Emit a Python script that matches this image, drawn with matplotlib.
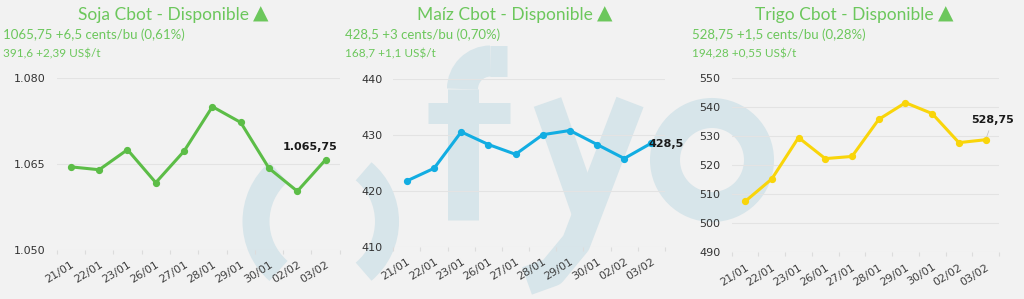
import matplotlib
matplotlib.use("Agg")
import matplotlib.pyplot as plt
from matplotlib.patches import Arc, Circle

# Datos (cierres Cbot, cents/bu)
fechas = ['21/01', '22/01', '23/01', '26/01', '27/01', '28/01', '29/01', '30/01', '02/02', '03/02']
soja = [1064.5, 1064.0, 1067.5, 1061.75, 1067.25, 1075.0, 1072.25, 1064.25, 1060.25, 1065.75]
maiz = [421.75, 424.0, 430.5, 428.25, 426.5, 430.0, 430.75, 428.25, 425.75, 428.5]
trigo = [507.5, 515.25, 529.5, 522.25, 523.0, 535.75, 541.5, 537.75, 527.75, 528.75]

titulos = ['Soja Cbot - Disponible', 'Maíz Cbot - Disponible', 'Trigo Cbot - Disponible']
linea1 = ['1065,75 +6,5 cents/bu (0,61%)', '428,5 +3 cents/bu (0,70%)', '528,75 +1,5 cents/bu (0,28%)']
linea2 = ['391,6 +2,39 US$/t', '168,7 +1,1 US$/t', '194,28 +0,55 US$/t']

soja_ticks = [1050, 1065, 1080]
maiz_ticks = [410, 420, 430, 440]
trigo_ticks = [490, 500, 510, 520, 530, 540, 550]

W, H = 1024, 299
FONDO = '#F2F2F2'
VERDE_TXT = '#6CC75C'
MARCA = '#D7E5EA'


def fmt_es(v, dec=2):
    s = f"{v:,.{dec}f}"
    if dec:
        s = s.rstrip('0').rstrip('.')
    return s.replace(',', 'X').replace('.', ',').replace('X', '.')


def px(x0, y0, x1, y1):
    # rectangulo en pixeles (y hacia abajo) -> fraccion de figura
    return [x0 / W, 1 - y1 / H, (x1 - x0) / W, (y1 - y0) / H]


fig = plt.figure(figsize=(W / 100, H / 100), dpi=100, facecolor=FONDO)

# marca de agua "( ) fyo" detras de todo
bg = fig.add_axes([0, 0, 1, 1], zorder=0)
bg.set_xlim(0, W)
bg.set_ylim(H, 0)
bg.axis('off')
k = 0.72  # px -> pt
bg.add_patch(Arc((321.5, 221.5), 131, 131, theta1=131, theta2=229, lw=27 * k, color=MARCA))
bg.add_patch(Arc((321.5, 221.5), 131, 131, theta1=-50, theta2=50, lw=24 * k, color=MARCA))
# f
bg.plot([462.5, 462.5], [220, 89], color=MARCA, lw=31 * k, solid_capstyle='butt')
bg.add_patch(Arc((490.5, 89), 56, 56, theta1=180, theta2=270, lw=31 * k, color=MARCA))
bg.plot([490, 507], [61, 61], color=MARCA, lw=31 * k, solid_capstyle='butt')
bg.plot([428, 510], [113, 113], color=MARCA, lw=21 * k, solid_capstyle='butt')
# y
bg.plot([547.5, 586], [102, 212], color=MARCA, lw=29 * k, solid_capstyle='butt')
bg.plot([630, 576, 552, 527], [102, 243, 272, 281], color=MARCA, lw=29 * k,
        solid_capstyle='butt', solid_joinstyle='round')
# o
bg.add_patch(Circle((712, 160), 47, fill=False, lw=30 * k, color=MARCA))

paneles = [
    dict(valores=soja, color='#5CBD47', rect=px(56.7, 78, 339.8, 250), ylim=(1050, 1080),
         ticks=soja_ticks, tx=163, sx=3, etiqueta=(-11, 9), ha='center'),
    dict(valores=maiz, color='#12ADE2', rect=px(393.3, 78.7, 665, 246.7), ylim=(410, 440),
         ticks=maiz_ticks, tx=505, sx=345, etiqueta=(-2, -1), ha='left'),
    dict(valores=trigo, color='#F9D50A', rect=px(731.7, 78, 999, 252.3), ylim=(490, 550),
         ticks=trigo_ticks, tx=844, sx=692, etiqueta=(5, 14), ha='center'),
]

for i, p in enumerate(paneles):
    ax = fig.add_axes(p['rect'], zorder=1)
    ax.set_facecolor('none')
    x = list(range(len(fechas)))
    ax.plot(x, p['valores'], color=p['color'], lw=2.2, marker='o', markersize=4.2, zorder=3)
    ax.set_xlim(-0.5, len(fechas) - 0.5)
    ax.set_ylim(*p['ylim'])
    ax.set_yticks(p['ticks'])
    ax.set_yticklabels([fmt_es(t, 0) for t in p['ticks']])
    ax.set_xticks(x)
    ax.set_xticklabels(fechas, rotation=32, ha='right', rotation_mode='anchor')
    ax.set_xticks([v - 0.5 for v in range(len(fechas) + 1)], minor=True)
    ax.tick_params(axis='x', which='major', length=0, pad=7, labelsize=8, labelcolor='#404040')
    ax.tick_params(axis='x', which='minor', length=3, color='#DCDCDC', width=0.8)
    ax.tick_params(axis='y', length=0, pad=8, labelsize=8, labelcolor='#333333')
    ax.grid(axis='y', color='#E3E3E3', lw=0.8)
    for s in ax.spines.values():
        s.set_visible(False)

    # etiqueta del ultimo valor
    ult = p['valores'][-1]
    flecha = dict(arrowstyle='-', color='#BDBDBD', lw=0.5) if i == 2 else None
    ax.annotate(fmt_es(ult), (x[-1], ult), xytext=p['etiqueta'], textcoords='offset points',
                ha=p['ha'], va='center', fontsize=8, fontweight='bold', color='#1A1A1A',
                arrowprops=flecha, zorder=4, annotation_clip=False)

    # titulo + triangulo, y las dos lineas de variacion
    t = fig.text(p['tx'] / W, 1 - 15 / H, titulos[i], ha='center', va='center',
                 fontsize=12.5, color=VERDE_TXT, family=['Lato', 'DejaVu Sans'])
    fig.add_artist(plt.Annotation('▲', xy=(1, 0.5), xycoords=t, xytext=(3, 0.5),
                                  textcoords='offset points', ha='left', va='center',
                                  fontsize=14.5, color=VERDE_TXT, family='DejaVu Sans'))
    fig.text(p['sx'] / W, 1 - 35 / H, linea1[i], ha='left', va='center',
             fontsize=9.5, color=VERDE_TXT, family=['Lato', 'DejaVu Sans'])
    fig.text(p['sx'] / W, 1 - 54 / H, linea2[i], ha='left', va='center',
             fontsize=8.5, color=VERDE_TXT, family=['Lato', 'DejaVu Sans'])

fig.savefig('out.png', dpi=100, facecolor=FONDO)
